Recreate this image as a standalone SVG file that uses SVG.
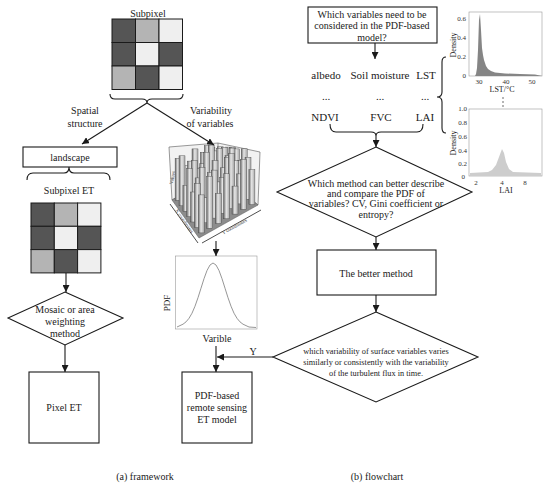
<svg xmlns="http://www.w3.org/2000/svg" width="550" height="487" viewBox="0 0 550 487">
<style>
.t{font-family:"Liberation Serif","Times New Roman",serif;font-size:10px;text-anchor:middle;fill:#1a1a1a}
.s{font-size:8.3px}
.ax{font-family:"Liberation Serif","Times New Roman",serif;font-size:7px;fill:#333}
.box{fill:#fff;stroke:#1a1a1a;stroke-width:1.1}
.ln{fill:none;stroke:#1a1a1a;stroke-width:1.1}
.arr{fill:none;stroke:#1a1a1a;stroke-width:1.1;marker-end:url(#ah)}
.d{fill:#555}.g{fill:#b4b4b4}.w{fill:#efefef}
.grid rect{stroke:#1a1a1a;stroke-width:1}
.bar{fill:url(#bg);stroke:#444;stroke-width:0.4}
.frame{fill:none;stroke:#999;stroke-width:0.6}
</style>
<defs>
<marker id="ah" viewBox="0 0 10 10" refX="10" refY="5" markerWidth="7" markerHeight="7" markerUnits="userSpaceOnUse" orient="auto"><path d="M0,0 L10,5 L0,10 z" fill="#1a1a1a"/></marker>
<linearGradient id="bg" x1="0" y1="0" x2="1" y2="0"><stop offset="0" stop-color="#6a6a6a"/><stop offset="0.45" stop-color="#e6e6e6"/><stop offset="1" stop-color="#a8a8a8"/></linearGradient>
</defs>

<!-- LEFT: framework -->
<g id="subpixel">
<text class="t" x="148" y="17">Subpixel</text>
<g class="grid">
<rect class="d" x="112" y="19" width="23.5" height="23.5"/><rect class="g" x="135.5" y="19" width="23.5" height="23.5"/><rect class="w" x="159" y="19" width="23.5" height="23.5"/>
<rect class="d" x="112" y="42.5" width="23.5" height="23.5"/><rect class="w" x="135.5" y="42.5" width="23.5" height="23.5"/><rect class="d" x="159" y="42.5" width="23.5" height="23.5"/>
<rect class="g" x="112" y="66" width="23.5" height="23.5"/><rect class="d" x="135.5" y="66" width="23.5" height="23.5"/><rect class="w" x="159" y="66" width="23.5" height="23.5"/>
</g>
<path class="ln" d="M110,94 Q110,99 115,99 L142,99 Q147,99 147,103 Q147,99 152,99 L178,99 Q183,99 183,94"/>
</g>

<g id="label-spatial">
<text class="t" x="85" y="114">Spatial</text>
<text class="t" x="85" y="127">structure</text>
</g>
<g id="label-variability">
<text class="t" x="211" y="114">Variability</text>
<text class="t" x="210" y="127">of variables</text>
</g>

<g id="landscape">
<rect class="box" x="23" y="147" width="94" height="20"/>
<text class="t" x="70" y="160.5">landscape</text>
<path class="ln" d="M27,180 Q27,173 33,173 L64,173 Q69,173 69,167 Q69,173 74,173 L104,173 Q110,173 110,180"/>
</g>

<g id="subpixel-et">
<text class="t" x="69" y="193.5">Subpixel ET</text>
<g class="grid">
<rect class="d" x="31" y="203" width="23.3" height="23.3"/><rect class="g" x="54.3" y="203" width="23.3" height="23.3"/><rect class="w" x="77.6" y="203" width="23.3" height="23.3"/>
<rect class="d" x="31" y="226.3" width="23.3" height="23.3"/><rect class="w" x="54.3" y="226.3" width="23.3" height="23.3"/><rect class="d" x="77.6" y="226.3" width="23.3" height="23.3"/>
<rect class="g" x="31" y="249.6" width="23.3" height="23.3"/><rect class="d" x="54.3" y="249.6" width="23.3" height="23.3"/><rect class="w" x="77.6" y="249.6" width="23.3" height="23.3"/>
</g>
</g>

<g id="mosaic">
<polygon class="box" points="65,292 123,318 65,345 8,318"/>
<text class="t" x="65" y="313">Mosaic or area</text>
<text class="t" x="65" y="325">weighting</text>
<text class="t" x="65" y="336.5">method</text>
</g>

<g id="pixel-et">
<rect class="box" x="29" y="372" width="70" height="71"/>
<text class="t" x="64" y="411">Pixel ET</text>
</g>

<g id="hist3d">
<polygon points="172,200 169,147 218,143 260,152 258,205 218,172" fill="#f2f2f2" stroke="#555" stroke-width="0.6"/>
<line x1="218" y1="143" x2="218" y2="185" stroke="#555" stroke-width="0.6"/>
<polygon points="172,200 218,172 258,205 199,238" fill="#8c8c8c" stroke="#555" stroke-width="0.5"/>
<text class="ax" style="font-size:5px" transform="translate(174,178) rotate(-80)" text-anchor="middle">Values</text>
<rect class="bar" x="225.7" y="147.1" width="6" height="25"/>
<rect class="bar" x="229.6" y="147.5" width="6" height="30"/>
<rect class="bar" x="217.3" y="146.8" width="6" height="30"/>
<rect class="bar" x="233.5" y="148.9" width="6" height="34"/>
<rect class="bar" x="221.2" y="147.2" width="6" height="35"/>
<rect class="bar" x="208.9" y="147.5" width="6" height="34"/>
<rect class="bar" x="237.3" y="160.3" width="6" height="28"/>
<rect class="bar" x="225" y="155.6" width="6" height="32"/>
<rect class="bar" x="212.7" y="150.9" width="6" height="36"/>
<rect class="bar" x="200.4" y="152.2" width="6" height="34"/>
<rect class="bar" x="241.2" y="148.8" width="6" height="45"/>
<rect class="bar" x="228.9" y="148.1" width="6" height="45"/>
<rect class="bar" x="216.6" y="148.4" width="6" height="44"/>
<rect class="bar" x="204.3" y="145.6" width="6" height="46"/>
<rect class="bar" x="192" y="148.9" width="6" height="42"/>
<rect class="bar" x="245" y="157.2" width="6" height="42"/>
<rect class="bar" x="232.8" y="160.5" width="6" height="38"/>
<rect class="bar" x="220.4" y="167.8" width="6" height="30"/>
<rect class="bar" x="208.2" y="145.1" width="6" height="52"/>
<rect class="bar" x="195.9" y="168.3" width="6" height="28"/>
<rect class="bar" x="183.6" y="165.6" width="6" height="30"/>
<rect class="bar" x="248.9" y="169.6" width="6" height="35"/>
<rect class="bar" x="236.6" y="173.9" width="6" height="30"/>
<rect class="bar" x="224.3" y="157.2" width="6" height="46"/>
<rect class="bar" x="212" y="160.5" width="6" height="42"/>
<rect class="bar" x="199.7" y="163.8" width="6" height="38"/>
<rect class="bar" x="187.4" y="161.1" width="6" height="40"/>
<rect class="bar" x="175.1" y="158.3" width="6" height="42"/>
<rect class="bar" x="240.5" y="159.3" width="6" height="50"/>
<rect class="bar" x="228.2" y="153.6" width="6" height="55"/>
<rect class="bar" x="215.9" y="181.9" width="6" height="26"/>
<rect class="bar" x="203.6" y="152.2" width="6" height="55"/>
<rect class="bar" x="191.3" y="160.5" width="6" height="46"/>
<rect class="bar" x="179" y="155.8" width="6" height="50"/>
<rect class="bar" x="232" y="186.1" width="6" height="28"/>
<rect class="bar" x="219.7" y="177.3" width="6" height="36"/>
<rect class="bar" x="207.4" y="172.6" width="6" height="40"/>
<rect class="bar" x="195.1" y="177.9" width="6" height="34"/>
<rect class="bar" x="182.9" y="185.2" width="6" height="26"/>
<rect class="bar" x="223.6" y="173.8" width="6" height="45"/>
<rect class="bar" x="211.3" y="170.1" width="6" height="48"/>
<rect class="bar" x="199" y="167.3" width="6" height="50"/>
<rect class="bar" x="186.7" y="168.6" width="6" height="48"/>
<rect class="bar" x="215.2" y="193.5" width="6" height="30"/>
<rect class="bar" x="202.9" y="197.8" width="6" height="25"/>
<rect class="bar" x="190.6" y="192" width="6" height="30"/>
<rect class="bar" x="206.7" y="176.2" width="6" height="52"/>
<rect class="bar" x="194.4" y="183.5" width="6" height="44"/>
<rect class="bar" x="198.3" y="194.9" width="6" height="38"/>
<line x1="170" y1="204" x2="198" y2="243" stroke="#222" stroke-width="0.8"/>
<line x1="202" y1="243" x2="261" y2="210" stroke="#222" stroke-width="0.8"/>
<text class="ax" style="font-size:5px" transform="translate(183,222) rotate(55)" text-anchor="middle">X coordinates</text>
<text class="ax" style="font-size:5px" transform="translate(235,228) rotate(-29)" text-anchor="middle">Y coordinates</text>
</g>

<g id="pdf-plot">
<rect class="frame" x="175.5" y="256" width="81.5" height="73"/>
<polyline fill="none" stroke="#8a8a8a" stroke-width="0.9" points="177,327 183,324.2 186,321.9 189,318.3 192,313.2 195,306.2 198,297.7 201,288.2 204,278.7 207,270.5 210,265 213,263 216,265 219,270.5 222,278.7 225,288.2 228,297.7 231,306.2 234,313.2 237,318.3 240,321.9 243,324.2 249,327 256,327.5"/>
<text class="t" style="font-size:9px" transform="translate(170,303) rotate(-90)">PDF</text>
<text class="t" x="217" y="342">Varible</text>
</g>

<g id="pdf-model">
<rect class="box" x="182" y="372" width="70" height="71"/>
<text class="t" x="217" y="399">PDF-based</text>
<text class="t" x="217" y="411">remote sensing</text>
<text class="t" x="217" y="422.5">ET  model</text>
</g>

<!-- RIGHT: flowchart -->
<g id="q-variables">
<rect class="box" x="308" y="7" width="129" height="36"/>
<text class="t" x="372" y="18">Which variables need to be</text>
<text class="t" x="372" y="29">considered in the PDF-based</text>
<text class="t" x="372" y="40.5">model?</text>
</g>

<g id="variables">
<text class="t" style="font-size:11px" x="326" y="79">albedo</text>
<text class="t" style="font-size:11px" x="380" y="79">Soil moisture</text>
<text class="t" style="font-size:11px" x="426" y="79">LST</text>
<text class="t" style="font-size:11px" x="326" y="100">...</text>
<text class="t" style="font-size:11px" x="380" y="100">...</text>
<text class="t" style="font-size:11px" x="425" y="100">...</text>
<text class="t" style="font-size:11px" x="325" y="121">NDVI</text>
<text class="t" style="font-size:11px" x="381" y="121">FVC</text>
<text class="t" style="font-size:11px" x="425" y="121">LAI</text>
<path class="ln" d="M330,124 Q330,132 336,132 L371,132 Q376,132 376,136 Q376,132 381,132 L417,132 Q423,132 423,124"/>
<path class="ln" d="M446,57 Q442,57 442,62 L442,92 Q442,97 437,97 Q442,97 442,102 L442,128 Q442,133 446,133"/>
</g>

<g id="lst-chart">
<rect class="frame" x="469" y="12" width="73" height="64"/>
<path d="M471,76 L475,76 L476,74 L477,68 L478,50 L479,20 L480,14 L481,30 L482,48 L483,55 L484,60 L485,63 L486,66 L488,69 L491,71 L495,72.5 L505,73.5 L520,74 L535,74.5 L540,75.5 L542,76 Z" fill="#858585"/>
<text class="ax" x="466" y="21" text-anchor="end">0.6</text>
<text class="ax" x="466" y="40" text-anchor="end">0.4</text>
<text class="ax" x="466" y="59" text-anchor="end">0.2</text>
<text class="ax" x="466" y="78" text-anchor="end">0</text>
<text class="ax" x="479" y="84" text-anchor="middle">30</text>
<text class="ax" x="506" y="84" text-anchor="middle">40</text>
<text class="ax" x="532" y="84" text-anchor="middle">50</text>
<text class="t" style="font-size:8px" x="502" y="92">LST/°C</text>
<text class="t" style="font-size:8px" transform="translate(456,45) rotate(-90)">Density</text>
<circle cx="503" cy="98" r="0.7" fill="#333"/><circle cx="503" cy="102" r="0.7" fill="#333"/><circle cx="503" cy="106" r="0.7" fill="#333"/>
</g>

<g id="lai-chart">
<rect class="frame" x="469" y="109" width="73" height="67"/>
<path d="M470,176 L470,173 L488,172 L492,170 L496,165 L499,157 L502,149 L504,153 L506,162 L509,169 L513,172 L541,173 L541,176 Z" fill="#cdcdcd"/>
<text class="ax" x="467" y="111" text-anchor="end">1.0</text>
<text class="ax" x="467" y="124.5" text-anchor="end">0.8</text>
<text class="ax" x="467" y="139" text-anchor="end">0.6</text>
<text class="ax" x="467" y="152.5" text-anchor="end">0.4</text>
<text class="ax" x="467" y="166" text-anchor="end">0.2</text>
<text class="ax" x="465" y="179" text-anchor="end">0</text>
<text class="ax" x="476" y="185" text-anchor="middle">2</text>
<text class="ax" x="502" y="185" text-anchor="middle">4</text>
<text class="ax" x="525" y="185" text-anchor="middle">8</text>
<text class="t" style="font-size:8px" x="506" y="193">LAI</text>
<text class="t" style="font-size:8px" transform="translate(456,143) rotate(-90)">Density</text>
</g>

<g id="q-method">
<polygon class="box" points="376,147 472,192 376,237 277,192"/>
<text class="t" x="376" y="186.5">Which method can better describe</text>
<text class="t" x="376" y="197">and compare the PDF of</text>
<text class="t" x="376" y="207">variables? CV, Gini coefficient or</text>
<text class="t" x="376" y="218">entropy?</text>
</g>

<g id="better-method">
<rect class="box" x="317" y="250" width="119" height="45"/>
<text class="t" x="376" y="276.5">The better method</text>
</g>

<g id="q-variability">
<polygon class="box" points="376,312 478,357 376,402 273,357"/>
<text class="t s" x="376" y="354">which variability of surface variables varies</text>
<text class="t s" x="376" y="365">similarly or consistently with the variability</text>
<text class="t s" x="376" y="376">of the turbulent flux in time.</text>
</g>

<g id="captions">
<text class="t" x="145" y="480">(a) framework</text>
<text class="t" x="377" y="480">(b) flowchart</text>
</g>

<g id="connectors">
<line class="arr" x1="147" y1="103" x2="82" y2="144"/>
<line class="arr" x1="147" y1="103" x2="214" y2="145"/>
<line class="arr" x1="66" y1="273" x2="66" y2="292"/>
<line class="arr" x1="65" y1="345" x2="65" y2="372"/>
<line class="arr" x1="216" y1="241" x2="216" y2="256"/>
<line class="arr" x1="216" y1="346" x2="216" y2="372"/>
<line class="arr" x1="273" y1="357" x2="217" y2="357"/>
<text class="t" x="253" y="355">Y</text>
<line class="arr" x1="375" y1="43" x2="375" y2="59"/>
<line class="arr" x1="376" y1="136" x2="376" y2="147"/>
<line class="arr" x1="376" y1="237" x2="376" y2="250"/>
<line class="arr" x1="376" y1="295" x2="376" y2="312"/>
</g>
</svg>
